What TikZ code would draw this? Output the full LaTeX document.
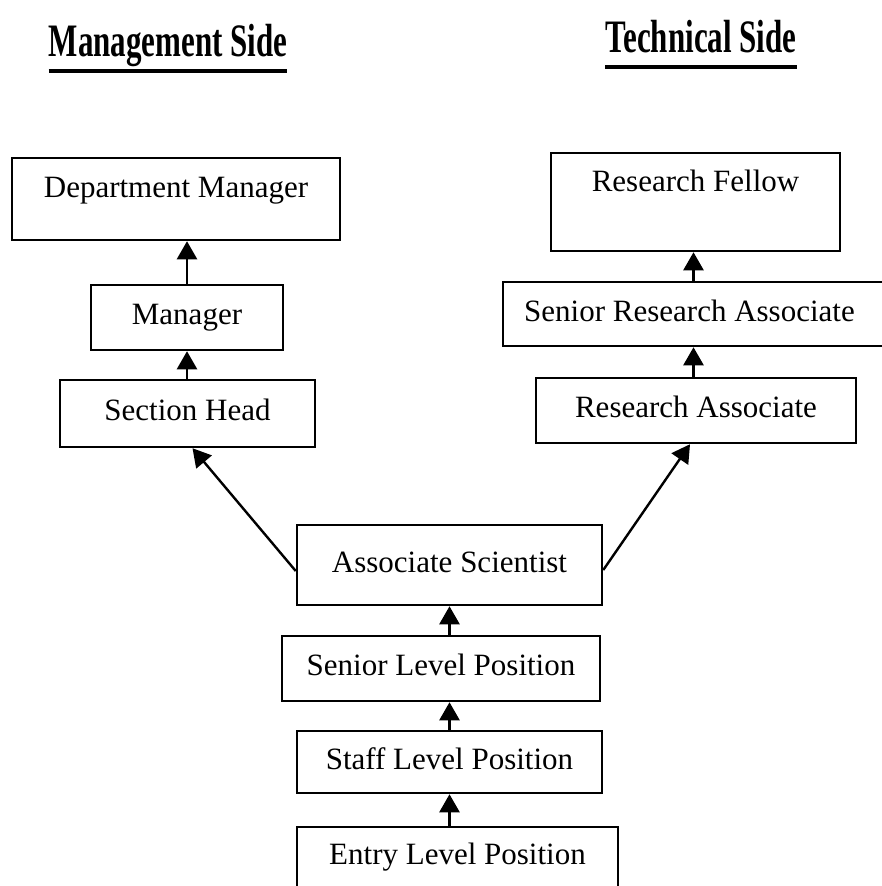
\documentclass[tikz,border=0pt]{standalone}
\usepackage{fontspec}
\setmainfont{Liberation Serif}
\usetikzlibrary{arrows.meta}
\begin{document}
\begin{tikzpicture}[x=1pt,y=-1pt,
  box/.style={draw, line width=2.5pt, inner sep=0pt, text height=21pt, text depth=7pt, font=\fontsize{31}{36}\selectfont},
  arr/.style={line width=2.4pt, -{Triangle[length=18pt,width=20pt]}},
  hdr/.style={inner sep=0pt, anchor=base, font=\fontsize{31}{36}\selectfont\bfseries},
  ul/.style={line width=3.5pt}]
\useasboundingbox (0,0) rectangle (881,886);
% headers
\node[hdr] (ms) at (168,56) {\scalebox{1}[1.5]{Management Side}};
\node[hdr] (ts) at (701,52) {\scalebox{1}[1.5]{Technical Side}};
\draw[ul] ([yshift=-15pt]ms.base west) -- ([yshift=-15pt]ms.base east);
\draw[ul] ([yshift=-15pt]ts.base west) -- ([yshift=-15pt]ts.base east);
% management side
\node[box, minimum width=328pt, minimum height=82pt, text depth=25pt] (dm) at (176,199) {Department Manager};
\node[box, minimum width=192pt, minimum height=65pt] (mgr) at (187,317.5) {Manager};
\node[box, minimum width=255pt, minimum height=67pt] (sh) at (187.5,413.5) {Section Head};
% technical side
\node[box, minimum width=289pt, minimum height=98pt, text depth=43pt] (rf) at (695.5,202) {Research Fellow};
\node[box, minimum width=383pt, minimum height=64pt] (sra) at (694.5,314) {\hspace*{-10pt}Senior Research Associate};
\node[box, minimum width=320pt, minimum height=65pt] (ra) at (696,410.5) {Research Associate};
% common path
\node[box, minimum width=305pt, minimum height=80pt] (as) at (449.5,565) {Associate Scientist};
\node[box, minimum width=318pt, minimum height=65pt] (slp) at (441,668.5) {Senior Level Position};
\node[box, minimum width=305pt, minimum height=62pt] (stp) at (449.5,762) {Staff Level Position};
\node[box, minimum width=321pt, minimum height=73pt, text depth=20pt] (elp) at (457.5,863.5) {Entry Level Position};
% arrows
\draw[arr] (mgr.north) -- (mgr.north |- dm.south);
\draw[arr] (mgr.north |- sh.north) -- (mgr.south);
\draw[arr] ([xshift=-2pt]rf.south |- sra.north) -- ([xshift=-2pt]rf.south);
\draw[arr] ([xshift=-2pt]rf.south |- ra.north) -- ([xshift=-2pt]rf.south |- sra.south);
\draw[arr] ([yshift=-6pt]as.west) -- ([xshift=5pt]sh.south);
\draw[arr] ([yshift=-5pt]as.east) -- ([xshift=-6pt]ra.south);
\draw[arr] (as.south |- slp.north) -- (as.south);
\draw[arr] (as.south |- stp.north) -- (as.south |- slp.south);
\draw[arr] (as.south |- elp.north) -- (as.south |- stp.south);
\end{tikzpicture}
\end{document}
